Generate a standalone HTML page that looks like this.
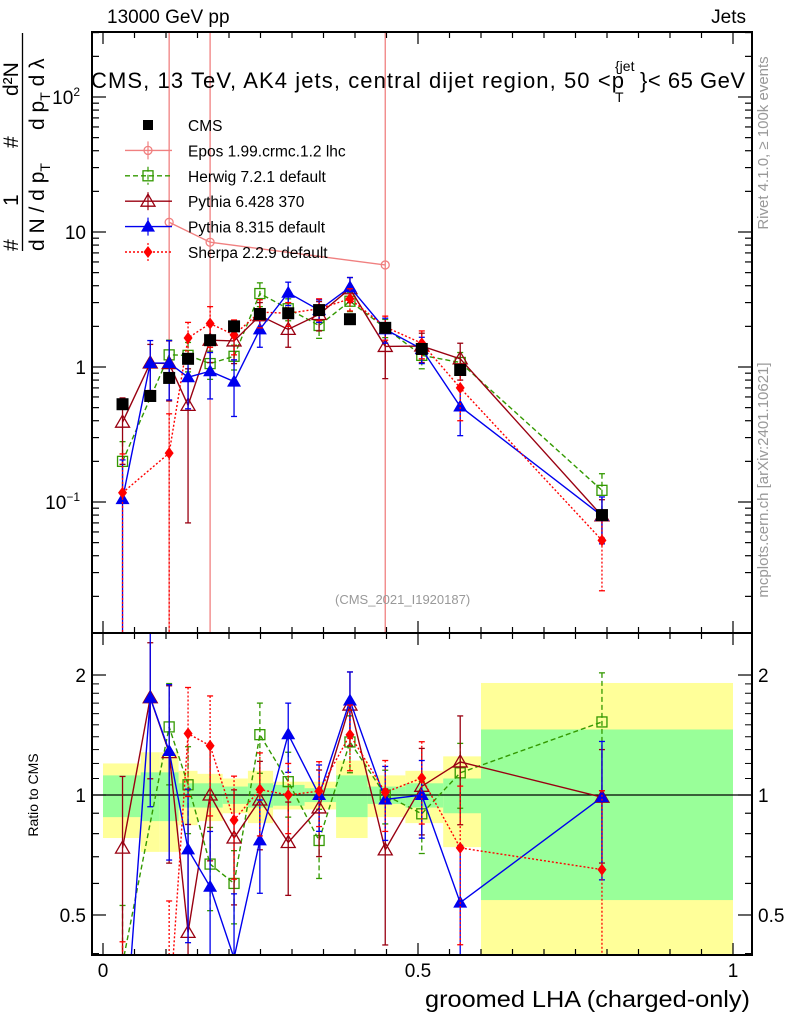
<!DOCTYPE html>
<html><head><meta charset="utf-8"><style>
body{margin:0;background:#fff;}
svg{display:block;font-family:"Liberation Sans",sans-serif;}
</style></head><body>
<svg id="chart" width="786" height="1024" viewBox="0 0 786 1024" xmlns="http://www.w3.org/2000/svg">
<g id="bands"></g>
<g id="marks"></g>
<g id="axes"></g>
<text x="107" y="23" font-size="19">13000 GeV pp</text>
<text x="746" y="23" font-size="19" text-anchor="end">Jets</text>
<g>
<text x="91" y="88" font-size="22" textLength="533" lengthAdjust="spacing">CMS, 13 TeV, AK4 jets, central dijet region, 50 &lt;p</text>
<text x="615" y="71" font-size="14">{jet</text>
<text x="615" y="102" font-size="14">T</text>
<text x="640" y="88" font-size="22" textLength="105" lengthAdjust="spacing">}&lt; 65 GeV</text>
</g>
<text x="335" y="604" font-size="13" fill="#999">(CMS_2021_I1920187)</text>
<text transform="translate(768,143) rotate(-90)" font-size="15" fill="#999" text-anchor="middle">Rivet 4.1.0, ≥ 100k events</text>
<text transform="translate(768,480) rotate(-90)" font-size="15" fill="#999" text-anchor="middle">mcplots.cern.ch [arXiv:2401.10621]</text>
<text x="750" y="1007" font-size="23" text-anchor="end" textLength="325" lengthAdjust="spacingAndGlyphs">groomed LHA (charged-only)</text>
<text transform="translate(38,795) rotate(-90)" font-size="14" text-anchor="middle">Ratio to CMS</text>
<g font-size="21">
<text transform="translate(18,251) rotate(-90)">#</text>
<text transform="translate(18,206) rotate(-90)">1</text>
<text transform="translate(18,148) rotate(-90)">#</text>
<text transform="translate(18,96) rotate(-90)">d²N</text>
<line x1="22.5" y1="33" x2="22.5" y2="251" stroke="#000" stroke-width="1.3"/>
<text transform="translate(44,251) rotate(-90)">d N / d p<tspan font-size="14" dy="6">T</tspan></text>
<text transform="translate(44,130) rotate(-90)">d p<tspan font-size="14" dy="6">T</tspan><tspan dy="-6"> d λ</tspan></text>
</g>
<g id="legend"></g>
</svg>
<script>
const binLo=[0,0.06,0.09,0.12,0.15,0.19,0.23,0.27,0.32,0.37,0.42,0.48,0.54,0.6];
const binHi=[0.06,0.09,0.12,0.15,0.19,0.23,0.27,0.32,0.37,0.42,0.48,0.54,0.6,1.0];
const xCenters=[0.031,0.075,0.105,0.135,0.17,0.208,0.249,0.294,0.343,0.392,0.448,0.506,0.567,0.792];
const cmsVals=[0.53,0.61,0.83,1.15,1.58,2.0,2.47,2.5,2.64,2.26,1.95,1.36,0.95,0.08];
const herwigVals=[0.2,null,1.23,1.22,1.06,1.2,3.5,2.7,2.03,3.07,1.95,1.22,1.08,0.122];
const herwigErr=[0.08,0.2,0.35,0.3,0.25,0.25,0.7,0.5,0.4,0.5,0.3,0.25,0.2,0.04];
const py6Vals=[0.39,1.07,1.06,0.52,1.58,1.56,2.4,1.9,2.45,3.8,1.42,1.43,1.15,0.079];
const py6Err=[0.2,0.4,0.5,0.45,0.5,0.5,0.6,0.5,0.6,0.8,0.6,0.35,0.35,0.025];
const py8Vals=[0.105,1.07,1.07,0.84,0.93,0.78,1.9,3.55,2.64,3.9,1.9,1.36,0.51,0.079];
const py8Err=[0.1,0.5,0.5,0.35,0.35,0.35,0.5,0.7,0.5,0.7,0.4,0.3,0.2,0.03];
const sherpaVals=[0.117,null,0.23,1.64,2.1,1.73,2.55,2.5,2.7,3.2,1.98,1.5,0.7,0.052];
const sherpaErr=[0.11,0.16,0.22,0.5,0.7,0.5,0.6,0.5,0.5,0.6,0.4,0.35,0.3,0.03];
const eposX=[0.105,0.17,0.448];
const eposVals=[11.8,8.4,5.7];
const greenLo=[0.88,0.86,0.86,0.93,0.93,0.95,0.93,0.94,0.96,0.88,0.95,0.93,0.9,0.545];
const greenHi=[1.12,1.14,1.14,1.07,1.07,1.05,1.07,1.06,1.04,1.12,1.05,1.07,1.1,1.46];
const yellowLo=[0.78,0.72,0.72,0.84,0.86,0.9,0.85,0.92,0.92,0.78,0.88,0.85,0.74,0.3];
const yellowHi=[1.2,1.28,1.28,1.15,1.13,1.1,1.15,1.08,1.08,1.22,1.12,1.15,1.25,1.91];
const xTicks=[0,0.5,1];
const xTickLabels=["0","0.5","1"];

const NS="http://www.w3.org/2000/svg";
const L=92,R=752,T=32,B=633,RB=955;
const X=v=>103+630*v;
const Y=v=>367-135*Math.log10(v);
const YR=v=>795-398.6*Math.log10(v);
function mk(tag,attrs,parent){const e=document.createElementNS(NS,tag);for(const k in attrs)e.setAttribute(k,attrs[k]);parent.appendChild(e);return e;}
const bands=document.getElementById('bands'),marks=document.getElementById('marks'),axes=document.getElementById('axes'),legend=document.getElementById('legend');
const clampR=y=>Math.max(633,Math.min(955,y));
const clampM=y=>Math.max(32,Math.min(633,y));

for(let i=0;i<binLo.length;i++){
  let r=mk('rect',{x:X(binLo[i]),y:clampR(YR(yellowHi[i])),width:X(binHi[i])-X(binLo[i]),height:clampR(YR(yellowLo[i]))-clampR(YR(yellowHi[i])),fill:'#ffff99'},bands);
  
  
}
for(let i=0;i<binLo.length;i++){
  let r=mk('rect',{x:X(binLo[i]),y:clampR(YR(greenHi[i])),width:X(binHi[i])-X(binLo[i]),height:clampR(YR(greenLo[i]))-clampR(YR(greenHi[i])),fill:'#99ff99'},bands);
  
  
}
mk('line',{x1:L,x2:R,y1:YR(1),y2:YR(1),stroke:'#000','stroke-width':1.2},bands);

function marker(type,color,x,y,g){
  if(type==='sq') return mk('rect',{x:x-5,y:y-5,width:10,height:10,fill:'none',stroke:color,'stroke-width':1.3},g);
  if(type==='fsq') return mk('rect',{x:x-6,y:y-6,width:12,height:12,fill:color},g);
  if(type==='otri') return mk('path',{d:`M${x},${y-7}L${x+7},${y+5}L${x-7},${y+5}Z`,fill:'none',stroke:color,'stroke-width':1.3},g);
  if(type==='tri') return mk('path',{d:`M${x},${y-7}L${x+7},${y+5}L${x-7},${y+5}Z`,fill:color},g);
  if(type==='dia') return mk('path',{d:`M${x},${y-6}L${x+4.5},${y}L${x},${y+6}L${x-4.5},${y}Z`,fill:color},g);
  if(type==='cross') return mk('circle',{cx:x,cy:y,r:4,fill:'none',stroke:color,'stroke-width':1.3},g);
}
function series(name,xs,vals,errs,color,dash,type,ratio){
  const g=mk('g',{},marks);
  
  
  const yf=ratio?YR:Y, cl=ratio?clampR:clampM;
  const pts=[];
  for(let i=0;i<vals.length;i++){
    if(vals[i]===null) continue;
    let v=ratio?vals[i]/cmsVals[i]:vals[i];
    let e=errs?(ratio?errs[i]/cmsVals[i]:errs[i]):null;
    const x=X(xs[i]);
    pts.push([x,yf(v)]);
    if(e!==null){
      const y1=cl(yf(v+e)), y2=cl(v-e>0?yf(v-e):2000);
      mk('line',{x1:x,x2:x,y1:y1,y2:y2,stroke:color,'stroke-width':1.3,'stroke-dasharray':dash||''},g);
      mk('line',{x1:x-3,x2:x+3,y1:y1,y2:y1,stroke:color,'stroke-width':1.3},g);
      if(v-e>0) mk('line',{x1:x-3,x2:x+3,y1:y2,y2:y2,stroke:color,'stroke-width':1.3},g);
    }
  }
  const cp=mk('clipPath',{id:'c'+name+(ratio?'r':'')},g);
  mk('rect',{x:L,y:ratio?633:32,width:R-L,height:ratio?322:601},cp);
  mk('polyline',{points:pts.map(p=>p.join(',')).join(' '),fill:'none',stroke:color,'stroke-width':1.4,'stroke-dasharray':dash||'','clip-path':`url(#c${name}${ratio?'r':''})`},g);
  pts.forEach(p=>{if(p[1]>(ratio?633:32)&&p[1]<(ratio?955:633)){const m=marker(type,color,p[0],p[1],g);}});
}
(function(){const g=mk('g',{},marks);


const pts=eposX.map((x,i)=>[X(x),Y(eposVals[i])]);
pts.forEach(p=>mk('line',{x1:p[0],x2:p[0],y1:32,y2:633,stroke:'#f08080','stroke-width':1.3},g));
mk('polyline',{points:pts.map(p=>p.join(',')).join(' '),fill:'none',stroke:'#f08080','stroke-width':1.4},g);
pts.forEach(p=>{const m=marker('cross','#f08080',p[0],p[1],g);});
})();
[false,true].forEach(ratio=>{
  series('herwig',xCenters,herwigVals,herwigErr,'#339900','5,3','sq',ratio);
  series('pythia6',xCenters,py6Vals,py6Err,'#990011',null,'otri',ratio);
  series('pythia8',xCenters,py8Vals,py8Err,'#0000ee',null,'tri',ratio);
  series('sherpa',xCenters,sherpaVals,sherpaErr,'#ff0000','2,2','dia',ratio);
});
(function(){const g=mk('g',{},marks);


xCenters.forEach((x,i)=>{const m=marker('fsq','#000',X(x),Y(cmsVals[i]),g);});})();

mk('rect',{x:L,y:T,width:R-L,height:B-T,fill:'none',stroke:'#000','stroke-width':2},axes);
mk('rect',{x:L,y:B,width:R-L,height:RB-B,fill:'none',stroke:'#000','stroke-width':2},axes);
for(let k=0;k<=20;k++){const v=k*0.05;const x=X(v);if(x<L||x>R)continue;const len=(k%10===0)?12:6;
 [[T,T+len],[B,B-len],[B,B+len],[RB,RB-len]].forEach(s=>mk('line',{x1:x,x2:x,y1:s[0],y2:s[1],stroke:'#000','stroke-width':1.2},axes));}
xTicks.forEach((v,i)=>{const t=mk('text',{x:X(v),y:977,'font-size':19,'text-anchor':'middle'},axes);t.textContent=xTickLabels[i];
});
for(let d=-2;d<=2;d++){for(let m=1;m<10;m++){const v=m*Math.pow(10,d);const y=Y(v);if(y<T||y>B)continue;const len=m===1?14:7;
 mk('line',{x1:L,x2:L+len,y1:y,y2:y,stroke:'#000','stroke-width':1.2},axes);mk('line',{x1:R,x2:R-len,y1:y,y2:y,stroke:'#000','stroke-width':1.2},axes);}}
const ml=[[100,'10<tspan font-size="12" dy="-8">2</tspan>'],[10,'10'],[1,'1'],[0.1,'10<tspan font-size="12" dy="-8">−1</tspan>']];
ml.forEach(a=>{const t=mk('text',{x:(a[0]===1||a[0]===10)?86:80,y:Y(a[0])+7,'font-size':19,'text-anchor':'end'},axes);t.innerHTML=a[1];
});
[0.4,0.5,0.6,0.7,0.8,0.9,1,2].forEach(v=>{const y=YR(v);const len=(v===0.5||v===1||v===2)?14:7;
 mk('line',{x1:L,x2:L+len,y1:y,y2:y,stroke:'#000','stroke-width':1.2},axes);mk('line',{x1:R,x2:R-len,y1:y,y2:y,stroke:'#000','stroke-width':1.2},axes);});
[1.1,1.2,1.3,1.4,1.5,1.6,1.7,1.8,1.9].forEach(v=>{const y=YR(v);mk('line',{x1:L,x2:L+7,y1:y,y2:y,stroke:'#000'},axes);mk('line',{x1:R,x2:R-7,y1:y,y2:y,stroke:'#000'},axes);});
[[0.5,'0.5'],[1,'1'],[2,'2']].forEach(a=>{[[86,'end'],[758,'start']].forEach(s=>{const t=mk('text',{x:s[0],y:YR(a[0])+7,'font-size':19,'text-anchor':s[1]},axes);t.textContent=a[1];
});});

const legNames=['CMS','Epos 1.99.crmc.1.2 lhc','Herwig 7.2.1 default','Pythia 6.428 370','Pythia 8.315 default','Sherpa 2.2.9 default'];
const legColors=['#000','#f08080','#339900','#990011','#0000ee','#ff0000'];
const legTypes=['fsq','cross','sq','otri','tri','dia'];
const legDash=[null,'','5,3','','','2,2'];
legNames.forEach((n,i)=>{const y=125+25.4*i;const g=mk('g',{},legend);
 
 
 if(legDash[i]!==null){mk('line',{x1:125,x2:172,y1:y,y2:y,stroke:legColors[i],'stroke-width':1.4,'stroke-dasharray':legDash[i]},g);mk('line',{x1:148,x2:148,y1:y-9,y2:y+9,stroke:legColors[i],'stroke-width':1.2,'stroke-dasharray':legDash[i]},g);}
 if(i===0)mk('rect',{x:143,y:y-5,width:10,height:10,fill:'#000'},g);else marker(legTypes[i],legColors[i],148,y,g);
 const t=mk('text',{x:188,y:y+6,'font-size':15.5},g);t.textContent=n;});
</script>
</body></html>
